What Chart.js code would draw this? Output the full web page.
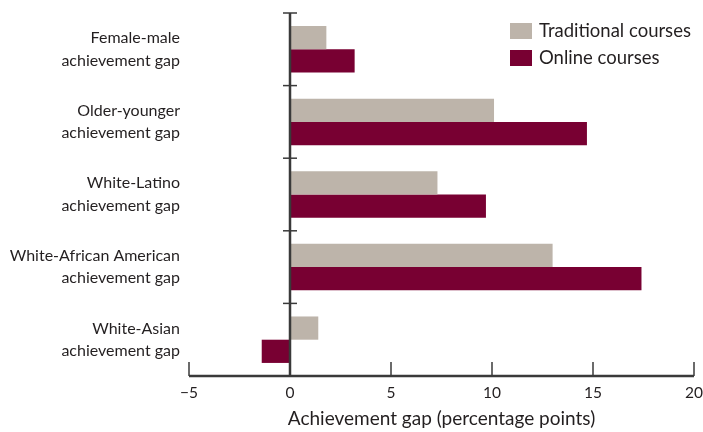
<!DOCTYPE html>
<html>
<head>
<meta charset="utf-8">
<script src="https://cdn.jsdelivr.net/npm/chart.js@4"></script>
<style>
  html, body { margin: 0; padding: 0; background: #fff; }
  #wrap { width: 703px; height: 432px; }
</style>
</head>
<body>
<div id="wrap"><canvas id="gapChart" width="703" height="432"></canvas></div>
<script>
// Chart data
const categories = [
    ["Female-male", "achievement gap"],
    ["Older-younger", "achievement gap"],
    ["White-Latino", "achievement gap"],
    ["White-African American", "achievement gap"],
    ["White-Asian", "achievement gap"]
];
const traditional = [1.8, 10.1, 7.3, 13.0, 1.4];
const online = [3.2, 14.7, 9.7, 17.4, -1.4];
const xTicks = [-5, 0, 5, 10, 15, 20];

const FONT = "Lato, 'Open Sans', sans-serif";
const INK = "#231f20";
const AXIS = "#3a3a3a";

// Axis lines, tick marks and legend are drawn by hand to match the print style
const axisPlugin = {
    id: 'axisLines',
    afterDatasetsDraw(chart) {
        const { ctx, chartArea, scales } = chart;
        const x = scales.x;
        const zeroX = x.getPixelForValue(0);
        const step = (chartArea.bottom - chartArea.top) / categories.length;

        ctx.save();
        ctx.strokeStyle = AXIS;
        ctx.lineWidth = 2.5;

        // zero line
        ctx.beginPath();
        ctx.moveTo(zeroX, chartArea.top);
        ctx.lineTo(zeroX, chartArea.bottom);
        ctx.stroke();

        // category separators crossing the zero line
        ctx.lineWidth = 1.5;
        for (let i = 0; i < categories.length; i++) {
            const y = chartArea.top + i * step;
            ctx.beginPath();
            ctx.moveTo(zeroX - 7, y);
            ctx.lineTo(zeroX + 7, y);
            ctx.stroke();
        }

        // bottom axis
        ctx.lineWidth = 2.5;
        ctx.beginPath();
        ctx.moveTo(chartArea.left, chartArea.bottom);
        ctx.lineTo(chartArea.right, chartArea.bottom);
        ctx.stroke();

        ctx.lineWidth = 1.5;
        xTicks.forEach(v => {
            const px = x.getPixelForValue(v);
            ctx.beginPath();
            ctx.moveTo(px, chartArea.bottom);
            ctx.lineTo(px, chartArea.bottom - 14);
            ctx.stroke();
        });

        // legend
        ctx.font = "18.5px " + FONT;
        ctx.textBaseline = 'middle';
        ctx.textAlign = 'left';
        chart.data.datasets.forEach((ds, i) => {
            const top = 23 + i * 27;
            ctx.fillStyle = ds.backgroundColor;
            ctx.fillRect(510, top, 22, 16);
            ctx.fillStyle = INK;
            ctx.fillText(ds.label, 539, top + 8);
        });
        ctx.restore();
    }
};

new Chart(document.getElementById('gapChart'), {
    type: 'bar',
    data: {
        labels: categories,
        datasets: [
            {
                label: 'Traditional courses',
                data: traditional,
                backgroundColor: '#bdb4aa',
                categoryPercentage: 0.64,
                barPercentage: 1.0
            },
            {
                label: 'Online courses',
                data: online,
                backgroundColor: '#780032',
                categoryPercentage: 0.64,
                barPercentage: 1.0
            }
        ]
    },
    options: {
        indexAxis: 'y',
        responsive: false,
        animation: false,
        layout: { padding: { top: 13, right: 9, left: 0, bottom: 0 } },
        plugins: {
            legend: { display: false },
            tooltip: { enabled: false }
        },
        scales: {
            x: {
                min: -5,
                max: 20,
                afterBuildTicks: axis => { axis.ticks = xTicks.map(v => ({ value: v })); },
                afterFit: axis => {
                    axis.height = 56;
                    axis.paddingLeft = 0;
                    axis.paddingRight = 0;
                },
                grid: { display: false, drawTicks: false },
                border: { display: false },
                ticks: {
                    padding: 8,
                    color: INK,
                    font: { family: FONT, size: 15.5 },
                    callback: v => String(v).replace('-', '\u2212')
                },
                title: {
                    display: true,
                    text: 'Achievement gap (percentage points)',
                    color: INK,
                    font: { family: FONT, size: 19 },
                    padding: { top: 3, bottom: 2 }
                }
            },
            y: {
                grid: { display: false, drawTicks: false },
                border: { display: false },
                afterFit: axis => {
                    axis.width = 189;
                    axis.paddingTop = 0;
                    axis.paddingBottom = 0;
                },
                ticks: {
                    padding: 9,
                    color: INK,
                    font: { family: FONT, size: 16, lineHeight: 1.4 }
                }
            }
        }
    },
    plugins: [axisPlugin]
});
</script>
</body>
</html>
